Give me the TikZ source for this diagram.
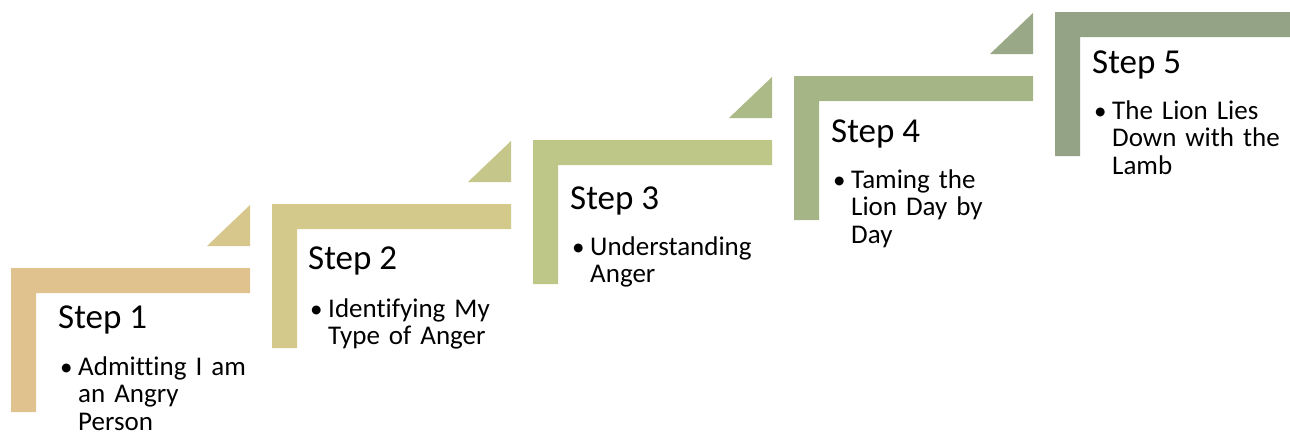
\documentclass[tikz,border=0pt]{standalone}
\usepackage{fontspec}
\setmainfont{Carlito}[Ligatures=NoCommon]

\definecolor{c1}{RGB}{224,194,142}
\definecolor{c2}{RGB}{211,201,139}
\definecolor{c3}{RGB}{190,198,136}
\definecolor{c4}{RGB}{165,181,134}
\definecolor{c5}{RGB}{148,162,134}

\begin{document}
\begin{tikzpicture}[
	x=1pt, y=-1pt,
	ttl/.style = {anchor=base west, inner sep=0, font=\fontsize{35}{40}\selectfont},
	bul/.style = {anchor=base west, inner sep=0, font=\fontsize{25}{28}\selectfont},
	txt/.style = {anchor=base west, inner sep=0, text width=200, align=left, font=\fontsize{27}{27.5}\selectfont}
	]
	\useasboundingbox (0,0) rectangle (1290,437);
	\clip (0,0) rectangle (1290,437);
	
	%Steps
	\foreach \i/\x/\y in {1/11/268, 2/272/204, 3/533/140, 4/794/76, 5/1055/12} {
		\fill[c\i] (\x,\y) -- ++(239,0) -- ++(0,25) -- ++(-214,0) -- ++(0,119) -- ++(-25,0) -- cycle;
	}
	
	%Arrow heads
	\foreach \i/\j/\x/\y in {1/2/11/268, 2/3/272/204, 3/4/533/140, 4/5/794/76} {
		\fill[c\j!70!c\i] (\x+196,\y-22) -- (\x+239,\y-22) -- (\x+239,\y-63) -- cycle;
	}
	
	%Titles
	\node[ttl]	(t1)	at	(58, 328)	{Step 1};
	\node[ttl]	(t2)	at	(308, 269)	{Step 2};
	\node[ttl]	(t3)	at	(570, 209)	{Step 3};
	\node[ttl]	(t4)	at	(831, 142)	{Step 4};
	\node[ttl]	(t5)	at	(1092, 73)	{Step 5};
	
	%Bullets
	\node[bul]	(b1)	at	(60, 375)	{\textbullet};
	\node[bul]	(b2)	at	(310, 317)	{\textbullet};
	\node[bul]	(b3)	at	(572, 255)	{\textbullet};
	\node[bul]	(b4)	at	(833, 188)	{\textbullet};
	\node[bul]	(b5)	at	(1094, 119)	{\textbullet};
	
	%Texts
	\node[txt]	(d1)	at	(78, 375)	{Admitting I am\\an Angry\\Person};
	\node[txt]	(d2)	at	(328, 317)	{Identifying My\\Type of Anger};
	\node[txt]	(d3)	at	(590, 255)	{Understanding\\Anger};
	\node[txt]	(d4)	at	(851, 188)	{Taming the\\Lion Day by\\Day};
	\node[txt]	(d5)	at	(1112, 119)	{The Lion Lies\\Down with the\\Lamb};
\end{tikzpicture}
\end{document}
